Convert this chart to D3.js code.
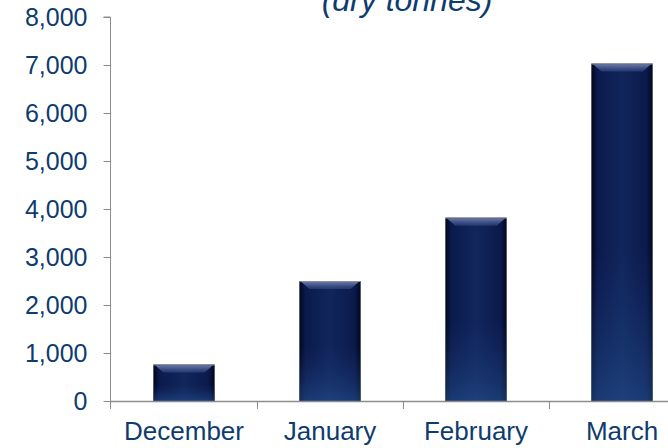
<!DOCTYPE html>
<html><head><meta charset="utf-8">
<script src="https://cdn.jsdelivr.net/npm/d3@7"></script>
<style>body{margin:0;background:#fff}svg{display:block}</style>
</head><body>
<svg id="c" width="668" height="448"></svg>
<script>
const categories = ["December", "January", "February", "March"];
const values = [760, 2500, 3820, 7030];
const yTicks = [0, 1000, 2000, 3000, 4000, 5000, 6000, 7000, 8000];
const titleText = "(dry tonnes)";

const svg = d3.select("#c");
const textColor = "#0e3c6e";
const axisColor = "#8c8c8c";
const font = "'Liberation Sans', Arial, sans-serif";

const x = d3.scaleBand().domain(categories).range([111, 695]).paddingInner(0.58).paddingOuter(0.29);
const y = d3.scaleLinear().domain([0, 8000]).range([401, 17]);

const defs = svg.append("defs");
const gh = defs.append("linearGradient").attr("id", "gh").attr("x1", 0).attr("x2", 1).attr("y1", 0).attr("y2", 0);
[[0, "#02071c"], [0.1, "#0b1a4c"], [0.5, "#11265c"], [0.9, "#0b1a4c"], [1, "#02071c"]]
  .forEach(([o, c]) => gh.append("stop").attr("offset", o).attr("stop-color", c));
const gv = defs.append("linearGradient").attr("id", "gv").attr("x1", 0).attr("x2", 0).attr("y1", 0).attr("y2", 1);
[[0, "#1e3e80", 0], [0.55, "#1e3e80", 0], [1, "#2a5a9a", 0.5]]
  .forEach(([o, c, a]) => gv.append("stop").attr("offset", o).attr("stop-color", c).attr("stop-opacity", a));
const gb = defs.append("linearGradient").attr("id", "gb").attr("x1", 0).attr("x2", 0).attr("y1", 0).attr("y2", 1);
[[0, "#7080b0", 0.9], [1, "#3a4e8a", 0.5]]
  .forEach(([o, c, a]) => gb.append("stop").attr("offset", o).attr("stop-color", c).attr("stop-opacity", a));

// title
svg.append("text").attr("x", 407).attr("y", 11).attr("text-anchor", "middle")
  .attr("font-family", font).attr("font-style", "italic").attr("font-size", 32)
  .attr("fill", textColor).text(titleText);

// bars
const data = categories.map((c, i) => ({ c, v: values[i] }));
const bars = svg.append("g").selectAll("g").data(data).join("g");
bars.append("rect").attr("x", d => x(d.c)).attr("y", d => y(d.v))
  .attr("width", x.bandwidth()).attr("height", d => y(0) - y(d.v)).attr("fill", "url(#gh)");
bars.append("rect").attr("x", d => x(d.c)).attr("y", d => y(d.v))
  .attr("width", x.bandwidth()).attr("height", d => y(0) - y(d.v)).attr("fill", "url(#gv)");
const bev = 8;
bars.append("polygon").attr("fill", "url(#gb)").attr("points", d => {
  const x0 = x(d.c), x1 = x0 + x.bandwidth(), t = y(d.v);
  return [[x0 + 2, t + 1], [x1 - 2, t + 1], [x1 - bev - 2, t + bev], [x0 + bev + 2, t + bev]].map(p => p.join(",")).join(" ");
});
bars.append("line").attr("x1", d => x(d.c)).attr("x2", d => x(d.c) + x.bandwidth())
  .attr("y1", d => y(d.v) + 0.5).attr("y2", d => y(d.v) + 0.5).attr("stroke", "#8a8f9e").attr("stroke-width", 1);

// y axis
const yAxis = svg.append("g").attr("transform", "translate(110.5,0)")
  .call(d3.axisLeft(y).tickValues(yTicks).tickSize(7).tickPadding(16).tickFormat(d3.format(",")));
yAxis.select(".domain").attr("stroke", axisColor).attr("d", `M-7,${y(8000)}H0V${y(0)+8}`);
yAxis.selectAll(".tick line").attr("stroke", axisColor);
yAxis.selectAll("text").attr("font-family", font).attr("font-size", 25).attr("fill", textColor);

// x axis
const bounds = categories.map(c => x(c) - x.step() * x.paddingInner() / 2);
bounds.push(x(categories[categories.length - 1]) + x.bandwidth() + x.step() * x.paddingInner() / 2);
const xg = svg.append("g");
xg.append("line").attr("x1", 110).attr("x2", 700).attr("y1", y(0) + 0.5).attr("y2", y(0) + 0.5)
  .attr("stroke", axisColor).attr("stroke-width", 1.5);
xg.selectAll("line.t").data(bounds.slice(1)).join("line").attr("class", "t")
  .attr("x1", d => Math.round(d) + 0.5).attr("x2", d => Math.round(d) + 0.5)
  .attr("y1", y(0)).attr("y2", y(0) + 8).attr("stroke", axisColor);
xg.selectAll("text").data(categories).join("text")
  .attr("x", d => x(d) + x.bandwidth() / 2).attr("y", 440).attr("text-anchor", "middle")
  .attr("font-family", font).attr("font-size", 26).attr("fill", textColor).text(d => d);
</script>
</body></html>
